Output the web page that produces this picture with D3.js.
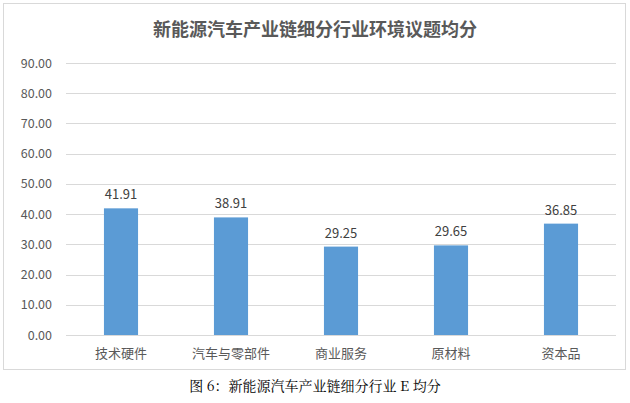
<!DOCTYPE html>
<html><head><meta charset="utf-8">
<script src="https://cdn.jsdelivr.net/npm/d3@7"></script>
<style>body{margin:0;background:#fff}</style>
</head><body>
<svg id="chart" width="630" height="403"></svg>
<script>
var categories = ['技术硬件', '汽车与零部件', '商业服务', '原材料', '资本品'];
var scores = [41.91, 38.91, 29.25, 29.65, 36.85];
var yTicks = [0, 10, 20, 30, 40, 50, 60, 70, 80, 90];

var svg = d3.select('#chart');
var font = '"Noto Sans CJK SC", sans-serif';

// outer frame
svg.append('rect').attr('x', 3.5).attr('y', 3.5).attr('width', 622).attr('height', 366)
	.attr('fill', '#fff').attr('stroke', '#d9d9d9');

svg.append('text').attr('x', 315).attr('y', 36).attr('text-anchor', 'middle')
	.style('font-family', font).style('font-size', '18px').style('font-weight', 'bold')
	.attr('fill', '#595959').text('新能源汽车产业链细分行业环境议题均分');

var x = d3.scaleBand().domain(categories).range([66, 616]).paddingInner(0.69).paddingOuter(0.345);
var y = d3.scaleLinear().domain([0, 90]).range([335, 63]);

// gridlines
svg.append('g').selectAll('line').data(yTicks).enter().append('line')
	.attr('x1', 66).attr('x2', 616)
	.attr('y1', function(d){ return Math.round(y(d)) + 0.5; })
	.attr('y2', function(d){ return Math.round(y(d)) + 0.5; })
	.attr('stroke', '#d9d9d9');

svg.append('g').selectAll('text').data(yTicks).enter().append('text')
	.attr('x', 52).attr('y', function(d){ return y(d) + 4.5; })
	.attr('text-anchor', 'end').style('font-family', font).style('font-size', '12.5px')
	.attr('fill', '#595959').text(function(d){ return d.toFixed(2); });

svg.append('g').selectAll('rect').data(scores).enter().append('rect')
	.attr('x', function(d, i){ return x(categories[i]); })
	.attr('y', function(d){ return y(d); })
	.attr('width', x.bandwidth())
	.attr('height', function(d){ return y(0) - y(d); })
	.attr('fill', '#5b9bd5');

svg.append('g').selectAll('text').data(scores).enter().append('text')
	.attr('x', function(d, i){ return x(categories[i]) + x.bandwidth() / 2; })
	.attr('y', function(d){ return y(d) - 9; })
	.attr('text-anchor', 'middle').style('font-family', font).style('font-size', '13px')
	.attr('fill', '#404040').text(function(d){ return d.toFixed(2); });

svg.append('g').selectAll('text').data(categories).enter().append('text')
	.attr('x', function(d){ return x(d) + x.bandwidth() / 2; })
	.attr('y', 358).attr('text-anchor', 'middle')
	.style('font-family', font).style('font-size', '13px')
	.attr('fill', '#595959').text(function(d){ return d; });

svg.append('text').attr('x', 315).attr('y', 391).attr('text-anchor', 'middle')
	.style('font-family', '"Noto Serif CJK SC", "Noto Sans CJK SC", serif').style('font-size', '14px')
	.attr('fill', '#000').text('图 6：新能源汽车产业链细分行业 E 均分');
</script>
</body></html>
